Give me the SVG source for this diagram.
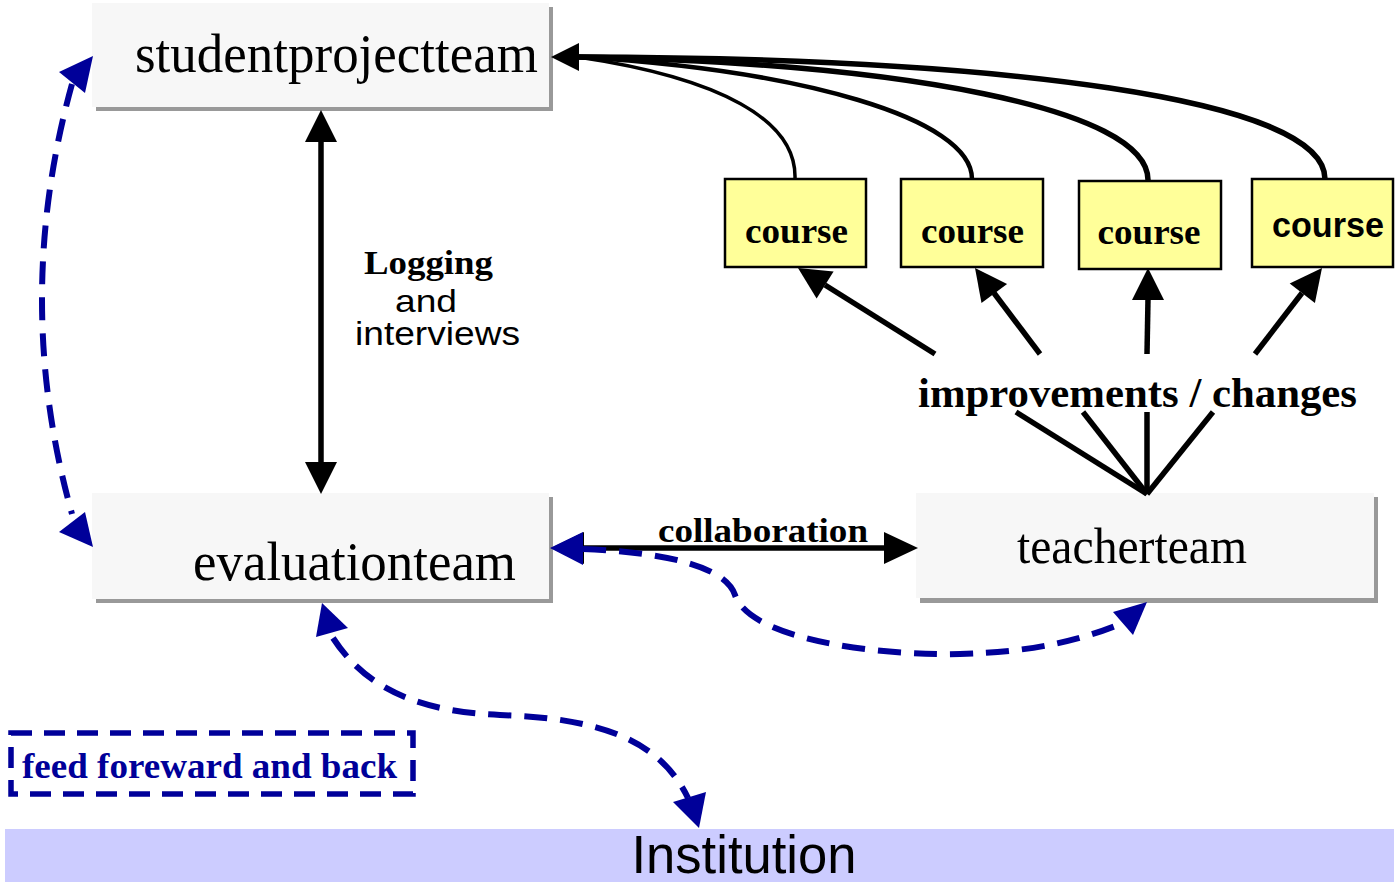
<svg xmlns="http://www.w3.org/2000/svg" width="1399" height="882" viewBox="0 0 1399 882">
<style>
.shadow{fill:#999999}
.node{fill:#f7f7f7}
.course{fill:#ffff99;stroke:#000;stroke-width:2.5}
.big{font-family:"Liberation Serif",serif;fill:#000}
.bs{font-family:"Liberation Serif",serif;font-weight:bold;fill:#000}
.sans{font-family:"Liberation Sans",sans-serif;fill:#000}
.solid{fill:none;stroke:#000;stroke-width:5.5}
.thin{fill:none;stroke:#000}
.dash{fill:none;stroke:#000099;stroke-width:6;stroke-dasharray:23 13}
.ah{fill:#000;stroke:none}
.bh{fill:#000099;stroke:none}
</style>
<g id="institution">
<rect x="5" y="829" width="1389" height="53" fill="#ccccff"/>
<text class="sans" x="744" y="873" font-size="53" text-anchor="middle" textLength="225" lengthAdjust="spacingAndGlyphs">Institution</text>
</g>
<g id="studentprojectteam">
<rect class="shadow" x="96" y="7" width="457" height="104"/>
<rect class="node" x="92" y="3" width="457" height="104"/>
<text class="big" x="336.5" y="72" font-size="54" text-anchor="middle" textLength="403" lengthAdjust="spacingAndGlyphs">studentprojectteam</text>
</g>
<g id="evaluationteam">
<rect class="shadow" x="96" y="497" width="457" height="106"/>
<rect class="node" x="92" y="493" width="457" height="106"/>
<text class="big" x="354.5" y="580" font-size="54" text-anchor="middle" textLength="323" lengthAdjust="spacingAndGlyphs">evaluationteam</text>
</g>
<g id="teacherteam">
<rect class="shadow" x="920" y="497" width="458" height="106"/>
<rect class="node" x="916" y="493" width="458" height="105"/>
<text class="big" x="1132" y="563" font-size="51" text-anchor="middle" textLength="230" lengthAdjust="spacingAndGlyphs">teacherteam</text>
</g>
<g id="course1">
<rect class="course" x="725" y="179" width="141" height="88"/>
<text class="bs" x="796.5" y="243" font-size="36" text-anchor="middle" textLength="103" lengthAdjust="spacingAndGlyphs">course</text>
</g>
<g id="course2">
<rect class="course" x="901" y="179" width="142" height="88"/>
<text class="bs" x="972.5" y="243" font-size="36" text-anchor="middle" textLength="103" lengthAdjust="spacingAndGlyphs">course</text>
</g>
<g id="course3">
<rect class="course" x="1079" y="181" width="142" height="88"/>
<text class="bs" x="1149" y="244" font-size="36" text-anchor="middle" textLength="103" lengthAdjust="spacingAndGlyphs">course</text>
</g>
<g id="course4">
<rect class="course" x="1252" y="179" width="141" height="88"/>
<text class="sans" x="1328" y="237" font-size="35" font-weight="bold" text-anchor="middle" textLength="112" lengthAdjust="spacingAndGlyphs">course</text>
</g>
<g id="feedback-legend">
<rect x="11" y="733" width="402" height="61" fill="none" stroke="#000099" stroke-width="5.5" stroke-dasharray="21 12"/>
<text class="bs" x="209.5" y="778" font-size="35" style="fill:#000099" text-anchor="middle" textLength="375" lengthAdjust="spacingAndGlyphs">feed foreward and back</text>
</g>
<g id="connectors">
<path class="thin" stroke-width="3.5" d="M795,179 C797,120 720,78 578,57"/>
<path class="thin" stroke-width="4.5" d="M972,179 C972,118 800,70 578,57"/>
<path class="thin" stroke-width="5.5" d="M1148,180 C1148,108 900,63 578,57"/>
<path class="thin" stroke-width="5.5" d="M1325,179 C1325,98 1000,58 578,57"/>
<polygon class="ah" points="551,57 579,43 579,71"/>
<line class="solid" x1="321" y1="140" x2="321" y2="464"/>
<polygon class="ah" points="321,110 305,142 337,142"/>
<polygon class="ah" points="321,494 305,462 337,462"/>
<text class="bs" x="428.5" y="274" font-size="34" text-anchor="middle" textLength="129" lengthAdjust="spacingAndGlyphs">Logging</text>
<text class="sans" x="426" y="312" font-size="32" text-anchor="middle" textLength="62" lengthAdjust="spacingAndGlyphs">and</text>
<text class="sans" x="437.5" y="345" font-size="34" text-anchor="middle" textLength="165" lengthAdjust="spacingAndGlyphs">interviews</text>
<line class="solid" x1="582" y1="548" x2="886" y2="548"/>
<polygon class="ah" points="551,548 584,532 584,564"/>
<polygon class="ah" points="918,548 884,532 884,564"/>
<text class="bs" x="763" y="542" font-size="34" text-anchor="middle" textLength="210" lengthAdjust="spacingAndGlyphs">collaboration</text>
<line class="solid" x1="935" y1="354" x2="825" y2="285"/>
<line class="solid" x1="1040" y1="354" x2="994" y2="293"/>
<line class="solid" x1="1147" y1="354" x2="1148" y2="299"/>
<line class="solid" x1="1255" y1="354" x2="1302" y2="293"/>
<polygon class="ah" points="798,268 833.6,271.4 816.6,298.6"/>
<polygon class="ah" points="975,268 1007.1,283.9 981.5,303.1"/>
<polygon class="ah" points="1148,268 1132,300 1164,300"/>
<polygon class="ah" points="1322,268 1314.9,303 1289.7,283.4"/>
<line class="solid" x1="1147" y1="494" x2="1016" y2="412"/>
<line class="solid" x1="1147" y1="494" x2="1083" y2="412"/>
<line class="solid" x1="1147" y1="494" x2="1147" y2="412"/>
<line class="solid" x1="1147" y1="494" x2="1213" y2="412"/>
<text class="bs" x="1137.5" y="407" font-size="42" text-anchor="middle" textLength="439" lengthAdjust="spacingAndGlyphs">improvements / changes</text>
<path class="dash" d="M72,84 Q12,300 72,514"/>
<polygon class="bh" points="93,56 59,72 85,93"/>
<polygon class="bh" points="93,547 59,532 85,512"/>
<path class="dash" d="M583,549 C660,552 725,565 735,595 C750,640 880,656 960,654 C1040,652 1090,637 1125,622"/>
<polygon class="bh" points="550,548 583,532 583,565"/>
<polygon class="bh" points="1147,602 1113,612 1133,635"/>
<path class="dash" d="M333,638 C370,695 430,712 500,715 C600,718 660,740 688,798"/>
<polygon class="bh" points="322,603 316,637 348,628"/>
<polygon class="bh" points="699,828 673,802 706,792"/>
</g>
</svg>
